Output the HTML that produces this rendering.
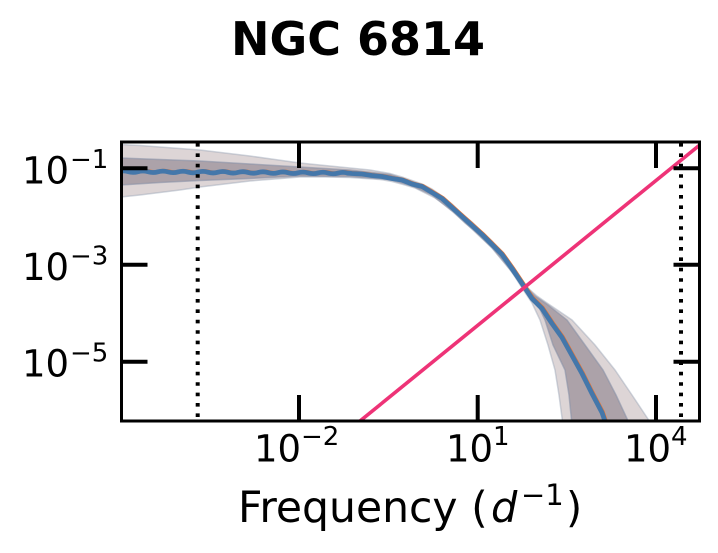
<!DOCTYPE html>
<html>
<head>
<meta charset="utf-8">
<style>
html,body{margin:0;padding:0;background:#fff;}
svg{display:block;}
text{font-family:"DejaVu Sans","Liberation Sans",sans-serif;fill:#000;}
</style>
</head>
<body>
<svg width="718" height="553" viewBox="0 0 718 553" xmlns="http://www.w3.org/2000/svg">
<defs>
<clipPath id="ax"><rect x="121.5" y="142" width="578" height="279"/></clipPath>
</defs>

<!-- Title -->
<text x="358" y="55" font-size="46" font-weight="bold" text-anchor="middle">NGC 6814</text>

<g clip-path="url(#ax)">
  <!-- outer band -->
  <polygon fill="#ddd5d6" stroke="#9aa3b5" stroke-opacity="0.45" stroke-width="1.5"
   points="121,144.5 140,145.5 160,147 180,148.5 200,150 225,153 250,156 275,159.5 300,163 325,165.5 350,168 370,170 390,173.5 402,177 412,180.5 422,184 432,189 442,196 452,204 462,214 472,222 482,232 492,241 502,252 512,265 520,278 528,288 537,296 547,303 572,320 595,345 615,370 632,395 652,425 563,425 559,395 555,370 548,345 540,320 532,303 524,291 515,277 505,262 495,250 485,240 475,231 465,223 455,213 445,205 435,198 425,193 415,188 405,185 392,181.5 380,179.5 350,177.5 325,177 300,177 275,179 250,181 225,184 200,187 180,190 160,192.5 140,195 121,197"/>
  <!-- inner band -->
  <polygon fill="#aca2a9" stroke="#8a92a8" stroke-opacity="0.6" stroke-width="1.5"
   points="121,158 160,159.5 200,161 250,164 300,167 350,170 390,174.5 412,181.5 432,190 452,205 472,223 492,242 512,266 525,286 535,296 548,305 567,320 585,345 603,370 616,395 630,425 572,425 569,395 565,370 553,345 545,320 538,305 526,290 512,272 492,248 472,229 452,211 432,195 412,186 390,179.5 350,176.5 300,176 250,178.5 200,180.5 160,182.5 121,185"/>

  <!-- orange line -->
  <path transform="translate(1.2,-0.9)" fill="none" stroke="#EE7733" stroke-width="3" stroke-linejoin="round"
   d="M118,171.5 q5,-1.4 10,0.1 t10,0.07 t10,0.07 t10,0.07 t10,0.07 t10,0.07 t10,0.07 t10,0.07 t10,0.07 t10,0.07 t10,0.07 t10,0.07 t10,0.07 t10,0.07 t10,0.07 t10,0.07 t10,0.07 t10,0.07 t10,0.07 t10,0.07 t10,0.07 t10,0.07 t10,0.07 L352,173.5 362,174 372,175.5 382,176.5 392,178.5 402,180 412,184 422,186.5 432,192.5 442,198.5 452,207.5 462,216.5 472,225.5 482,234.5 492,244.5 502,254.5 512,268.5 522,283.5 532,298.5 542,308.5 552,323.5 562,337.5 572,355.5 582,373.5 592,393.5 602,412.5 606,424"/>
  <!-- blue line -->
  <path fill="none" stroke="#4477AA" stroke-width="4.8" stroke-linejoin="round"
   d="M118,171.5 q5,-1.4 10,0.1 t10,0.07 t10,0.07 t10,0.07 t10,0.07 t10,0.07 t10,0.07 t10,0.07 t10,0.07 t10,0.07 t10,0.07 t10,0.07 t10,0.07 t10,0.07 t10,0.07 t10,0.07 t10,0.07 t10,0.07 t10,0.07 t10,0.07 t10,0.07 t10,0.07 t10,0.07 L352,173.5 362,174 372,175.5 382,176.5 392,178.5 402,180 412,184 422,186.5 432,192.5 442,198.5 452,207.5 462,216.5 472,225.5 482,234.5 492,244.5 502,254.5 512,268.5 522,283.5 532,298.5 542,308.5 552,323.5 562,337.5 572,355.5 582,373.5 592,393.5 602,412.5 606,424"/>

  <!-- pink power law line -->
  <line x1="330" y1="445.4" x2="710" y2="136.6" stroke="#EE3377" stroke-width="3.6"/>

  <!-- dotted vertical lines -->
  <line x1="197.7" y1="143" x2="197.7" y2="421" stroke="#000" stroke-width="4" stroke-dasharray="3.6 6.8"/>
  <line x1="681" y1="143" x2="681" y2="421" stroke="#000" stroke-width="4" stroke-dasharray="3.6 6.8"/>
</g>

<!-- ticks -->
<g stroke="#000" stroke-width="4">
  <line x1="121.5" y1="168.3" x2="147.5" y2="168.3"/>
  <line x1="121.5" y1="264.7" x2="147.5" y2="264.7"/>
  <line x1="121.5" y1="361.7" x2="147.5" y2="361.7"/>
  <line x1="699.5" y1="168.3" x2="673.5" y2="168.3"/>
  <line x1="699.5" y1="264.7" x2="673.5" y2="264.7"/>
  <line x1="699.5" y1="361.7" x2="673.5" y2="361.7"/>
  <line x1="299" y1="142" x2="299" y2="168"/>
  <line x1="477.7" y1="142" x2="477.7" y2="168"/>
  <line x1="656" y1="142" x2="656" y2="168"/>
  <line x1="299" y1="421" x2="299" y2="395"/>
  <line x1="477.7" y1="421" x2="477.7" y2="395"/>
  <line x1="656" y1="421" x2="656" y2="395"/>
</g>

<!-- spines -->
<rect x="121.5" y="142" width="578" height="279" fill="none" stroke="#000" stroke-width="3"/>

<!-- y tick labels -->
<text x="22" y="183.3" font-size="37">10</text>
<text x="70" y="168" font-size="26">−1</text>
<text x="22" y="280" font-size="37">10</text>
<text x="70" y="264.7" font-size="26">−3</text>
<text x="22" y="376.7" font-size="37">10</text>
<text x="70" y="361.5" font-size="26">−5</text>

<!-- x tick labels -->
<text x="254" y="461.7" font-size="37">10</text>
<text x="301" y="445" font-size="26">−2</text>
<text x="446" y="461.7" font-size="37">10</text>
<text x="493" y="445" font-size="26">1</text>
<text x="624" y="461.7" font-size="37">10</text>
<text x="671" y="445" font-size="26">4</text>

<!-- x axis label -->
<text x="238" y="522" font-size="42.5">Frequency (</text>
<text x="491" y="522" font-size="41.5" font-style="italic">d</text>
<text x="521" y="505" font-size="29">−1</text>
<text x="566" y="522" font-size="41.5">)</text>
</svg>
</body>
</html>
